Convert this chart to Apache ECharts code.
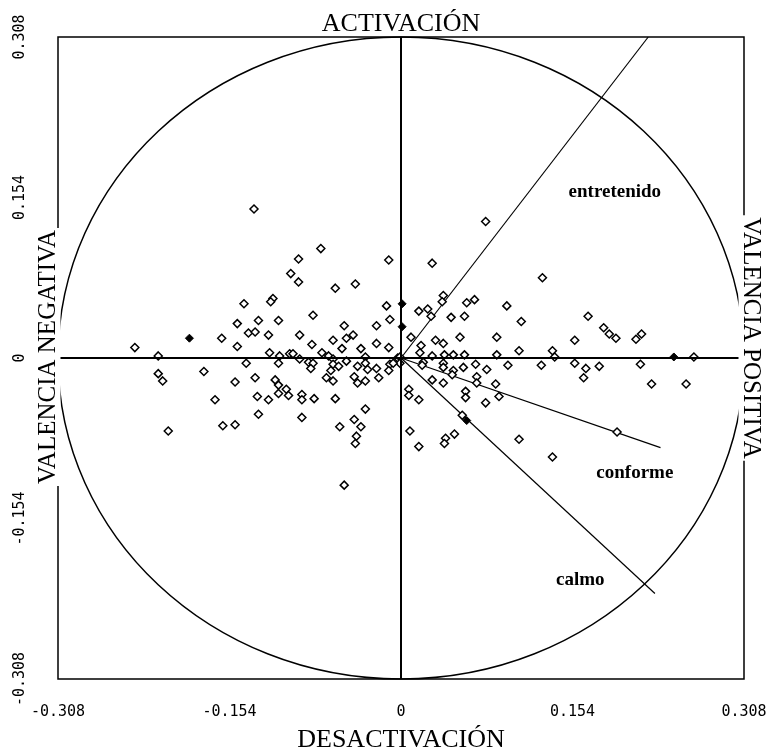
<!DOCTYPE html>
<html>
<head>
<meta charset="utf-8">
<script src="https://cdn.jsdelivr.net/npm/echarts@6/dist/echarts.min.js"></script>
<style>
html, body { margin: 0; padding: 0; background: #fff; }
#main { width: 777px; height: 756px; }
</style>
</head>
<body>
<div id="main"></div>
<script>
// limites y marcas de los ejes
var LIM = 0.308;
var STEP = 0.154;

// puntos (x, y)
var points = [
  [-0.132, 0.143], [-0.141, 0.052], [-0.128, 0.036], [-0.147, 0.033], [-0.137, 0.024],
  [-0.131, 0.025], [-0.161, 0.019], [-0.239, 0.010], [-0.147, 0.011], [-0.218, 0.002],
  [-0.139, -0.005], [-0.218, -0.015], [-0.214, -0.022], [-0.177, -0.013], [-0.149, -0.023],
  [-0.131, -0.019], [-0.167, -0.040], [-0.129, -0.037], [-0.128, -0.054], [-0.209, -0.070],
  [-0.160, -0.065], [-0.149, -0.064], [-0.072, 0.105], [-0.092, 0.095], [-0.099, 0.081],
  [-0.092, 0.073], [-0.059, 0.067], [-0.041, 0.071], [-0.011, 0.094], [-0.115, 0.057],
  [-0.117, 0.054], [-0.013, 0.050], [-0.110, 0.036], [-0.079, 0.041], [-0.119, 0.022],
  [-0.091, 0.022], [-0.051, 0.031], [-0.022, 0.031], [-0.010, 0.037], [-0.061, 0.017],
  [-0.049, 0.019], [-0.043, 0.022], [-0.080, 0.013], [-0.022, 0.014], [-0.053, 0.009],
  [-0.036, 0.009], [-0.011, 0.010], [-0.118, 0.005], [-0.109, 0.002], [-0.100, 0.004],
  [-0.097, 0.004], [-0.091, -0.001], [-0.071, 0.005], [-0.065, 0.002], [-0.061, -0.001],
  [-0.032, 0.001], [-0.110, -0.005], [-0.083, -0.004], [-0.079, -0.005], [-0.081, -0.010],
  [-0.061, -0.006], [-0.056, -0.008], [-0.049, -0.003], [-0.039, -0.008], [-0.032, -0.005],
  [-0.030, -0.011], [-0.022, -0.010], [-0.010, -0.006], [-0.003, 0.000], [-0.011, -0.012],
  [-0.063, -0.012], [-0.113, -0.021], [-0.110, -0.026], [-0.110, -0.034], [-0.103, -0.030],
  [-0.101, -0.036], [-0.089, -0.035], [-0.089, -0.040], [-0.078, -0.039], [-0.067, -0.019],
  [-0.061, -0.022], [-0.059, -0.039], [-0.042, -0.018], [-0.039, -0.024], [-0.032, -0.022],
  [-0.020, -0.019], [-0.119, -0.040], [-0.089, -0.057], [-0.032, -0.049], [-0.055, -0.066],
  [-0.042, -0.059], [-0.036, -0.066], [-0.040, -0.075], [-0.041, -0.082], [-0.051, -0.122],
  [0.076, 0.131], [0.028, 0.091], [0.127, 0.077], [0.038, 0.060], [0.037, 0.054],
  [0.024, 0.047], [0.016, 0.045], [0.027, 0.040], [0.045, 0.039], [0.059, 0.053],
  [0.066, 0.056], [0.057, 0.040], [0.095, 0.050], [0.108, 0.035], [0.009, 0.020],
  [0.018, 0.012], [0.031, 0.017], [0.038, 0.014], [0.053, 0.020], [0.086, 0.020],
  [0.017, 0.005], [0.106, 0.007], [0.136, 0.007], [0.138, 0.001], [0.039, 0.003],
  [0.057, 0.003], [0.086, 0.003], [0.028, 0.002], [0.047, 0.003], [-0.001, 0.001],
  [-0.001, -0.005], [-0.007, -0.005], [0.020, -0.004], [0.019, -0.007], [0.038, -0.005],
  [0.038, -0.009], [0.047, -0.012], [0.056, -0.009], [0.067, -0.006], [0.077, -0.011],
  [0.096, -0.007], [0.126, -0.007], [0.046, -0.016], [0.028, -0.021], [0.038, -0.024],
  [0.068, -0.018], [0.068, -0.024], [0.085, -0.025], [0.058, -0.032], [0.058, -0.038],
  [0.088, -0.037], [0.007, -0.030], [0.007, -0.036], [0.016, -0.040], [0.076, -0.043],
  [0.055, -0.055], [0.008, -0.070], [0.040, -0.077], [0.039, -0.082], [0.048, -0.073],
  [0.016, -0.085], [0.106, -0.078], [0.136, -0.095], [0.168, 0.040], [0.182, 0.029],
  [0.187, 0.023], [0.193, 0.019], [0.156, 0.017], [0.211, 0.018], [0.216, 0.023],
  [0.156, -0.005], [0.166, -0.010], [0.178, -0.008], [0.164, -0.019], [0.215, -0.006],
  [0.263, 0.001], [0.225, -0.025], [0.256, -0.025], [0.194, -0.071]
];
var filledPoints = [
  [-0.190, 0.019], [0.001, 0.052], [0.001, 0.030], [0.059, -0.060], [0.245, 0.001]
];

// vectores y sus rotulos
var vectorNames = ['entretenido', 'conforme', 'calmo'];
var vectorEnds = [[0.222, 0.308], [0.233, -0.086], [0.228, -0.226]];
var labelPos = [[0.192, 0.159], [0.210, -0.110], [0.161, -0.213]];

var myChart = echarts.init(document.getElementById('main'));

function fmt(v) {
  if (Math.abs(v) < 1e-9) return '0';
  return v.toFixed(3);
}

var vectorSeries = vectorEnds.map(function (e, i) {
  return {
    type: 'line',
    name: vectorNames[i],
    data: [[0, 0], e],
    symbol: 'none',
    lineStyle: { color: '#000', width: 1.2 },
    z: 2
  };
});

option = {
  animation: false,
  grid: {
    left: 58, right: 33, top: 37, bottom: 77,
    show: true,
    borderColor: '#000',
    borderWidth: 1.5
  },
  xAxis: {
    type: 'value',
    min: -LIM, max: LIM, interval: STEP,
    axisLine: { show: false, onZero: false },
    axisTick: { show: false },
    splitLine: { show: false },
    axisLabel: {
      formatter: fmt,
      color: '#000',
      fontFamily: 'DejaVu Sans Mono',
      fontSize: 15,
      margin: 26
    }
  },
  yAxis: {
    type: 'value',
    min: -LIM, max: LIM, interval: STEP,
    axisLine: { show: false, onZero: false },
    axisTick: { show: false },
    splitLine: { show: false },
    axisLabel: {
      formatter: fmt,
      rotate: 90,
      color: '#000',
      fontFamily: 'DejaVu Sans Mono',
      fontSize: 15,
      margin: 30
    }
  },
  series: [
    {
      type: 'scatter',
      data: points,
      symbol: 'diamond',
      symbolSize: 8,
      itemStyle: { color: '#fff', borderColor: '#000', borderWidth: 1.5, opacity: 1 },
      z: 4,
      markLine: {
        silent: true,
        symbol: 'none',
        label: { show: false },
        lineStyle: { color: '#000', width: 2, type: 'solid' },
        data: [{ xAxis: 0 }, { yAxis: 0 }]
      }
    },
    {
      type: 'scatter',
      data: filledPoints,
      symbol: 'diamond',
      symbolSize: 8,
      itemStyle: { color: '#000', borderColor: '#000', borderWidth: 1, opacity: 1 },
      z: 4
    },
    {
      type: 'scatter',
      data: labelPos.map(function (p, i) { return { value: p, name: vectorNames[i] }; }),
      symbolSize: 0,
      itemStyle: { opacity: 1 },
      label: {
        show: true,
        position: 'inside',
        formatter: '{b}',
        color: '#000',
        opacity: 1,
        fontFamily: 'Liberation Serif',
        fontWeight: 'bold',
        fontSize: 19
      },
      z: 5
    }
  ].concat(vectorSeries)
};
myChart.setOption(option);

// circulo de radio LIM y rotulos de los ejes
var c = myChart.convertToPixel({ gridIndex: 0 }, [0, 0]);
var e = myChart.convertToPixel({ gridIndex: 0 }, [LIM, LIM]);
var txtFont = '25px "Liberation Serif"';
myChart.setOption({
  graphic: [
    {
      type: 'ellipse',
      shape: { cx: c[0], cy: c[1], rx: e[0] - c[0], ry: c[1] - e[1] },
      style: { fill: 'none', stroke: '#000', lineWidth: 1.5 },
      z: 1
    },
    {
      type: 'text', x: 401, y: 24, z: 10,
      style: { text: 'ACTIVACIÓN', font: '26px "Liberation Serif"', fill: '#000', align: 'center', verticalAlign: 'middle' }
    },
    {
      type: 'text', x: 401, y: 740, z: 10,
      style: { text: 'DESACTIVACIÓN', font: '26px "Liberation Serif"', fill: '#000', align: 'center', verticalAlign: 'middle' }
    },
    {
      type: 'text', x: 48, y: 357, rotation: Math.PI / 2, z: 10,
      style: { text: 'VALENCIA NEGATIVA', font: txtFont, fill: '#000', align: 'center', verticalAlign: 'middle', backgroundColor: '#fff', padding: [0, 2] }
    },
    {
      type: 'text', x: 751, y: 338, rotation: -Math.PI / 2, z: 10,
      style: { text: 'VALENCIA POSITIVA', font: txtFont, fill: '#000', align: 'center', verticalAlign: 'middle', backgroundColor: '#fff', padding: [0, 2] }
    }
  ]
});
</script>
</body>
</html>
